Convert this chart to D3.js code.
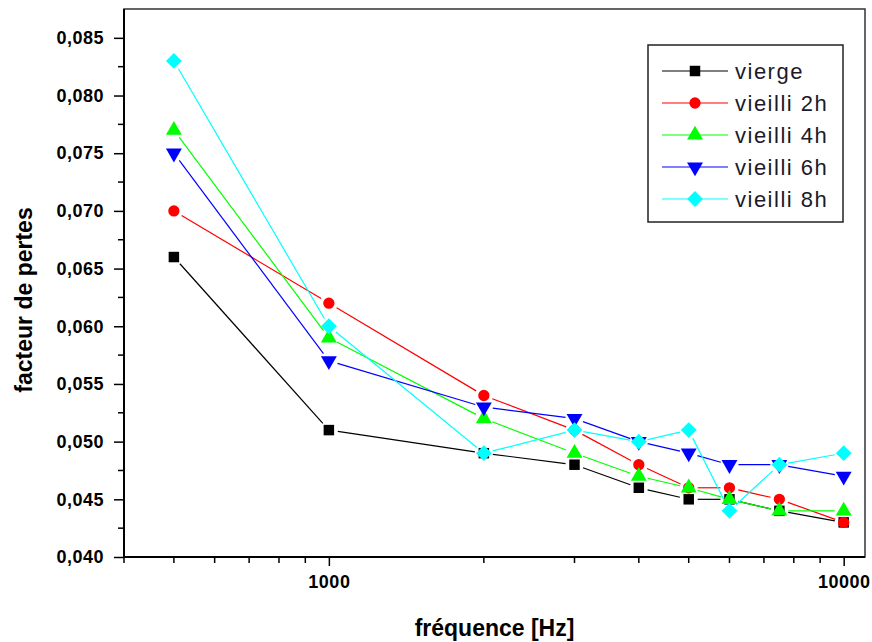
<!DOCTYPE html>
<html>
<head>
<meta charset="utf-8">
<script src="https://cdn.jsdelivr.net/npm/d3@7"></script>
<style>
  body { margin: 0; background: #fff; }
  svg { display: block; }
  text { font-family: "Liberation Sans", Arial, sans-serif; }
</style>
</head>
<body>
<script>
// fréquences (Hz)
var frequences = [500, 1000, 2000, 3000, 4000, 5000, 6000, 7500, 10000];
var series = ["vierge", "vieilli 2h", "vieilli 4h", "vieilli 6h", "vieilli 8h"];
var vierge = [0.066, 0.051, 0.049, 0.048, 0.046, 0.045, 0.045, 0.044, 0.043];
var vieilli2h = [0.070, 0.062, 0.054, 0.051, 0.048, 0.046, 0.046, 0.045, 0.043];
var vieilli4h = [0.077, 0.059, 0.052, 0.049, 0.047, 0.046, 0.045, 0.044, 0.044];
var vieilli6h = [0.075, 0.057, 0.053, 0.052, 0.050, 0.049, 0.048, 0.048, 0.047];
var vieilli8h = [0.083, 0.060, 0.049, 0.051, 0.050, 0.051, 0.044, 0.048, 0.049];
var yTicks = [0.040, 0.045, 0.050, 0.055, 0.060, 0.065, 0.070, 0.075, 0.080, 0.085];
var xTicks = [1000, 10000];

var valeurs = [vierge, vieilli2h, vieilli4h, vieilli6h, vieilli8h];
var couleurs = ["#000000", "#ff0000", "#00ff00", "#0000ff", "#00ffff"];

var width = 872, height = 642;
var gauche = 124, droite = 865, haut = 9, bas = 557;

var x = d3.scaleLog().domain([400, 11000]).range([gauche, droite]);
var y = d3.scaleLinear().domain([0.040, 0.0875]).range([bas, haut]);

var svg = d3.select("body").append("svg")
    .attr("width", width)
    .attr("height", height);

// cadre
svg.append("rect")
    .attr("x", gauche).attr("y", haut)
    .attr("width", droite - gauche).attr("height", bas - haut)
    .attr("fill", "none")
    .attr("stroke", "#333")
    .attr("stroke-width", 1.5);

// axe x (log) avec graduations mineures
var minorX = [];
[100, 1000].forEach(function (dec) {
    for (var k = 1; k <= 9; k++) {
        var v = dec * k;
        if (v >= 400 && v <= 11000 && xTicks.indexOf(v) < 0) minorX.push(v);
    }
});
var axeX = svg.append("g").attr("transform", "translate(0," + bas + ")");
axeX.call(d3.axisBottom(x).tickValues(xTicks).tickSize(9).tickPadding(9)
    .tickFormat(d3.format("d")));
axeX.selectAll(".tick text")
    .style("font-size", "18px").style("font-weight", "bold")
    .style("letter-spacing", "0.5px")
    .attr("fill", "#000");
axeX.selectAll(".minor").data(minorX).enter().append("line")
    .attr("x1", function (d) { return x(d); })
    .attr("x2", function (d) { return x(d); })
    .attr("y1", 0).attr("y2", 6)
    .attr("stroke", "#000").attr("stroke-width", 1.5);
axeX.select(".domain").attr("stroke-width", 2).attr("d", "M" + gauche + ",0H" + droite);
axeX.selectAll(".tick line").attr("stroke-width", 1.5);

// axe y
var axeY = svg.append("g").attr("transform", "translate(" + gauche + ",0)");
axeY.call(d3.axisLeft(y).tickValues(yTicks).tickSize(10).tickPadding(10)
    .tickFormat(function (d) { return d3.format(".3f")(d).replace(".", ","); }));
axeY.selectAll(".tick text")
    .style("font-size", "18px").style("font-weight", "bold")
    .style("letter-spacing", "0.5px")
    .attr("fill", "#000");
axeY.selectAll(".minor").data(yTicks.slice(0, -1).map(function (d) { return d + 0.0025; }))
    .enter().append("line")
    .attr("x1", -6).attr("x2", 0)
    .attr("y1", function (d) { return y(d); })
    .attr("y2", function (d) { return y(d); })
    .attr("stroke", "#000").attr("stroke-width", 1.5);
axeY.select(".domain").attr("stroke-width", 2).attr("d", "M0," + haut + "V" + bas);
axeY.selectAll(".tick line").attr("stroke-width", 1.5);

// titres des axes
svg.append("text")
    .attr("x", (gauche + droite) / 2).attr("y", 636)
    .attr("text-anchor", "middle")
    .style("font-size", "23px").style("font-weight", "bold")
    .text("fréquence [Hz]");
svg.append("text")
    .attr("transform", "translate(32,300) rotate(-90)")
    .attr("text-anchor", "middle")
    .style("font-size", "23px").style("font-weight", "bold")
    .text("facteur de pertes");

// symboles
function symbole(i) {
    if (i === 0) return { type: d3.symbolSquare, size: 110, rot: 0 };
    if (i === 1) return { type: d3.symbolCircle, size: 100, rot: 0 };
    if (i === 2) return { type: d3.symbolTriangle, size: 110, rot: 0 };
    if (i === 3) return { type: d3.symbolTriangle, size: 110, rot: 180 };
    return { type: d3.symbolSquare, size: 125, rot: 45 };
}

// lignes avec petits espaces autour des symboles (style Origin)
var gap = 9;
valeurs.forEach(function (vals, i) {
    var pts = frequences.map(function (f, j) { return [x(f), y(vals[j])]; });
    var g = svg.append("g");
    for (var j = 0; j < pts.length - 1; j++) {
        var a = pts[j], b = pts[j + 1];
        var dx = b[0] - a[0], dy = b[1] - a[1];
        var len = Math.sqrt(dx * dx + dy * dy);
        if (len <= 2 * gap) continue;
        var ux = dx / len, uy = dy / len;
        g.append("line")
            .attr("x1", a[0] + ux * gap).attr("y1", a[1] + uy * gap)
            .attr("x2", b[0] - ux * gap).attr("y2", b[1] - uy * gap)
            .attr("stroke", couleurs[i]).attr("stroke-width", 1.2);
    }
});

valeurs.forEach(function (vals, i) {
    var s = symbole(i);
    svg.append("g").selectAll("path")
        .data(frequences.map(function (f, j) { return [f, vals[j]]; }))
        .enter().append("path")
        .attr("d", d3.symbol().type(s.type).size(s.size))
        .attr("transform", function (d) {
            return "translate(" + x(d[0]) + "," + y(d[1]) + ") rotate(" + s.rot + ")";
        })
        .attr("fill", couleurs[i]);
});

// légende
var leg = svg.append("g");
leg.append("rect")
    .attr("x", 648).attr("y", 45).attr("width", 195).attr("height", 177)
    .attr("fill", "#fff").attr("stroke", "#222").attr("stroke-width", 1.5);
series.forEach(function (nom, i) {
    var yy = 71 + i * 32;
    var s = symbole(i);
    leg.append("line")
        .attr("x1", 662).attr("x2", 728).attr("y1", yy).attr("y2", yy)
        .attr("stroke", couleurs[i]).attr("stroke-width", 1.2);
    leg.append("path")
        .attr("d", d3.symbol().type(s.type).size(s.size))
        .attr("transform", "translate(695," + yy + ") rotate(" + s.rot + ")")
        .attr("fill", couleurs[i]);
    leg.append("text")
        .attr("x", 735).attr("y", yy + 8)
        .style("font-size", "22px")
        .style("letter-spacing", "1.5px")
        .attr("fill", "#1a1a2a")
        .text(nom);
});
</script>
</body>
</html>
